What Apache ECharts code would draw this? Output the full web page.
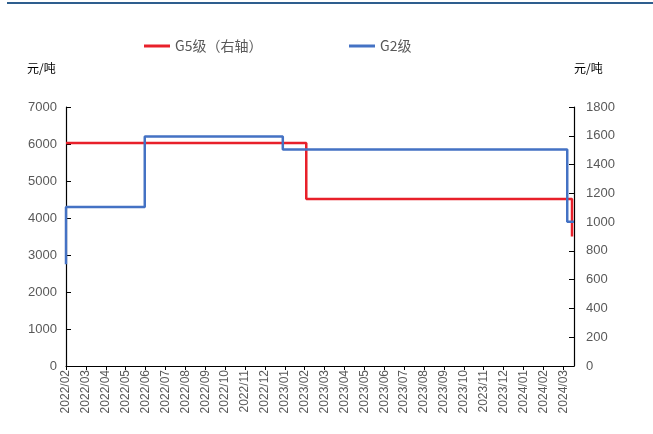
<!DOCTYPE html>
<html><head><meta charset="utf-8">
<script src="https://cdn.jsdelivr.net/npm/echarts@6/dist/echarts.min.js"></script>
<style>html,body{margin:0;padding:0;background:#fff}#c{width:653px;height:434px}</style>
</head><body><div id="c"></div>
<script>
// Month tick labels (x axis index 0 = 2022/02)
var monthLabels = ['2022/02','2022/03','2022/04','2022/05','2022/06','2022/07','2022/08','2022/09','2022/10','2022/11','2022/12','2023/01','2023/02','2023/03','2023/04','2023/05','2023/06','2023/07','2023/08','2023/09','2023/10','2023/11','2023/12','2024/01','2024/02','2024/03'];
var xEnd = 25.54;
// G2 (left axis), positions in months since 2022/02
var g2X = [0, 0, 3.96, 3.96, 10.9, 10.9, 25.2, 25.2, 25.54];
var g2Y = [2750, 4300, 4300, 6200, 6200, 5850, 5850, 3900, 3900];
// G5 (right axis)
var g5X = [0, 12.08, 12.08, 25.44, 25.44];
var g5Y = [1550, 1550, 1160, 1160, 900];
var leftTicks = {min:0, max:7000, interval:1000};
var rightTicks = {min:0, max:1800, interval:200};

function pairs(xs, ys){ return xs.map(function(x,i){return [x, ys[i]];}); }
var chart = echarts.init(document.getElementById('c'), null, {renderer:'canvas'});
var axisFont = {color:'#595959', fontSize:13, fontFamily:'Liberation Sans, Arial, sans-serif', formatter:function(v){return String(v);}};
var legendText = {color:'#595959', fontSize:14, fontFamily:'Noto Sans CJK SC'};
chart.setOption({
  animation:false,
  grid:{left:66, right:79, top:107, bottom:68, containLabel:false},
  legend:[
    {top:34, left:139, itemWidth:26, itemHeight:3, icon:'rect', itemGap:0,
     textStyle:legendText, data:['G5级（右轴）']},
    {top:34, left:344, itemWidth:26, itemHeight:3, icon:'rect', itemGap:0,
     textStyle:legendText, data:['G2级']}
  ],
  graphic:[
    {type:'rect', shape:{x:7, y:2, width:646, height:2}, style:{fill:'#2e5e8e'}},
    {type:'text', left:27, top:62, style:{text:'元/吨', fill:'#000', font:'12px "Noto Sans CJK SC"'}},
    {type:'text', left:574, top:62, style:{text:'元/吨', fill:'#000', font:'12px "Noto Sans CJK SC"'}}
  ],
  xAxis:{
    type:'value', min:0, max:xEnd, interval:1,
    splitLine:{show:false},
    axisLine:{lineStyle:{color:'#000', width:1.2}},
    axisTick:{inside:false, length:4, lineStyle:{color:'#000'}},
    axisLabel:{rotate:90, fontSize:12, margin:4, showMaxLabel:false, color:'#595959',
      fontFamily:'Liberation Sans, Arial, sans-serif',
      formatter:function(v){ return Number.isInteger(v) && monthLabels[v] ? monthLabels[v] : ''; }}
  },
  yAxis:[
    {type:'value', min:leftTicks.min, max:leftTicks.max, interval:leftTicks.interval, position:'left',
     splitLine:{show:false},
     axisLine:{show:true, lineStyle:{color:'#000', width:1.2}},
     axisTick:{show:true, inside:true, length:5, lineStyle:{color:'#000'}},
     axisLabel:Object.assign({margin:9}, axisFont)},
    {type:'value', min:rightTicks.min, max:rightTicks.max, interval:rightTicks.interval, position:'right',
     splitLine:{show:false},
     axisLine:{show:true, lineStyle:{color:'#000', width:1.2}},
     axisTick:{show:true, inside:true, length:5, lineStyle:{color:'#000'}},
     axisLabel:Object.assign({margin:12}, axisFont)}
  ],
  series:[
    {name:'G5级（右轴）', type:'line', yAxisIndex:1, data:pairs(g5X,g5Y), showSymbol:false, symbol:'none',
     lineStyle:{color:'#e8202a', width:2.5}, itemStyle:{color:'#e8202a'}},
    {name:'G2级', type:'line', yAxisIndex:0, data:pairs(g2X,g2Y), showSymbol:false, symbol:'none',
     lineStyle:{color:'#4472c4', width:2.5}, itemStyle:{color:'#4472c4'}}
  ]
});
</script></body></html>
